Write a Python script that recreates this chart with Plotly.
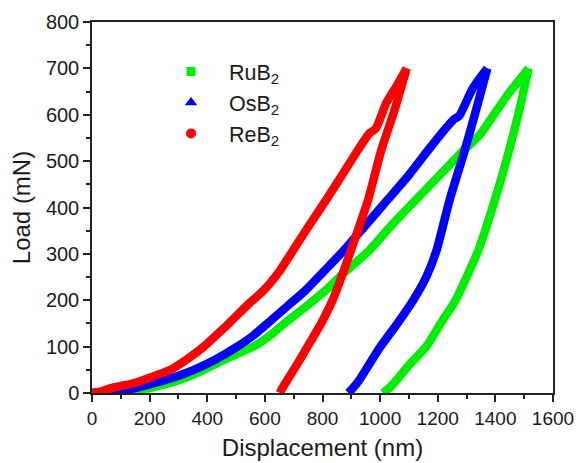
import plotly.graph_objects as go

# ---- data (Displacement nm, Load mN) ----
ru_load_x = [0, 100, 132, 180, 248, 320, 388, 470, 560, 620, 667, 740, 812, 880, 963, 1040, 1123, 1210, 1294, 1328, 1353, 1400, 1446, 1470, 1515]
ru_load_y = [0, 1, 3, 8, 18, 32, 50, 75, 100, 125, 150, 185, 222, 262, 308, 362, 416, 472, 526, 545, 562, 605, 646, 665, 700]
ru_unload_x = [1515, 1483, 1448, 1398, 1341, 1300, 1262, 1210, 1160, 1100, 1060, 1030, 1010]
ru_unload_y = [700, 610, 524, 416, 308, 250, 200, 150, 100, 60, 30, 10, 0]

os_load_x = [0, 40, 80, 121, 160, 214, 280, 353, 430, 504, 560, 609, 683, 742, 804, 875, 950, 1025, 1100, 1167, 1220, 1254, 1275, 1318, 1345, 1372]
os_load_y = [0, 2, 4, 7, 12, 21, 33, 50, 73, 100, 124, 150, 190, 222, 262, 308, 362, 416, 470, 524, 565, 589, 598, 653, 678, 700]
os_unload_x = [1372, 1335, 1294, 1241, 1196, 1160, 1115, 1060, 1001, 960, 930, 905, 890]
os_unload_y = [700, 615, 524, 416, 308, 250, 200, 150, 100, 60, 30, 10, 0]

re_load_x = [0, 30, 63, 100, 144, 200, 272, 330, 388, 430, 475, 540, 597, 650, 690, 750, 812, 868, 923, 963, 985, 1021, 1060, 1092]
re_load_y = [0, 3, 10, 15, 21, 33, 50, 73, 100, 124, 150, 190, 222, 262, 300, 358, 416, 470, 524, 560, 570, 625, 665, 700]
re_unload_x = [1092, 1050, 1004, 958, 899, 858, 835, 795, 748, 710, 680, 660, 652]
re_unload_y = [700, 610, 524, 416, 308, 237, 200, 150, 100, 60, 30, 10, 0]

names = ["RuB<sub>2</sub>", "OsB<sub>2</sub>", "ReB<sub>2</sub>"]
colors = ["#00ee00", "#0000ff", "#ff0000"]
symbols = ["square", "triangle-up", "circle"]
msizes = [9, 11, 10]
loads = [(ru_load_x, ru_load_y), (os_load_x, os_load_y), (re_load_x, re_load_y)]
unloads = [(ru_unload_x, ru_unload_y), (os_unload_x, os_unload_y), (re_unload_x, re_unload_y)]

x_ticks = [0, 200, 400, 600, 800, 1000, 1200, 1400, 1600]
y_ticks = [0, 100, 200, 300, 400, 500, 600, 700, 800]

fig = go.Figure()
for i in range(3):
    for xs, ys in (loads[i], unloads[i]):
        fig.add_trace(go.Scatter(
            x=xs, y=ys, mode="lines",
            line=dict(color=colors[i], width=8.5, shape="spline", smoothing=0.5),
            showlegend=False, hoverinfo="skip"))
for i in range(3):
    fig.add_trace(go.Scatter(
        x=[None], y=[None], mode="markers", name="\u00a0\u00a0\u00a0" + names[i],
        marker=dict(color=colors[i], symbol=symbols[i], size=msizes[i]), legendgroup=str(i)))

font_family = "Arial, Liberation Sans, sans-serif"
axis_common = dict(
    showline=True, linecolor="#222", linewidth=1.5, mirror=True,
    ticks="outside", ticklen=7, tickwidth=1.5, tickcolor="#222",
    showgrid=False, zeroline=False, automargin=False,
)
fig.update_layout(
    width=576, height=463,
    margin=dict(l=92, r=23, t=22, b=70),
    paper_bgcolor="white", plot_bgcolor="white",
    font=dict(family=font_family, color="#1a1a1a"),
    xaxis=dict(range=[0, 1600], tickvals=x_ticks,
               tickfont=dict(size=19, color="#1a1a1a", family=font_family),
               minor=dict(dtick=100, ticks="outside", ticklen=4, tickcolor="#222", tickwidth=1.5),
               title=dict(text="Displacement (nm)", font=dict(size=24), standoff=12),
               **axis_common),
    yaxis=dict(range=[0, 800], tickvals=y_ticks,
               tickfont=dict(size=20, color="#1a1a1a", family=font_family),
               minor=dict(dtick=50, ticks="outside", ticklen=4, tickcolor="#222", tickwidth=1.5),
               title=dict(text="Load (mN)", font=dict(size=24), standoff=8),
               **axis_common),
    legend=dict(x=(171 - 92) / 461, y=(393 - 51) / 371, xanchor="left", yanchor="top",
                bgcolor="rgba(0,0,0,0)", font=dict(size=21.5, family=font_family),
                tracegroupgap=0, itemwidth=30),
)
fig.write_html("out.html", config={"displayModeBar": False})

# remove the browser's default page margin so the figure sits at the window's corner
with open("out.html", "r", encoding="utf-8") as f:
    html = f.read()
html = html.replace("<head>", "<head><style>html,body{margin:0;padding:0;overflow:hidden;}</style>", 1)
with open("out.html", "w", encoding="utf-8") as f:
    f.write(html)
